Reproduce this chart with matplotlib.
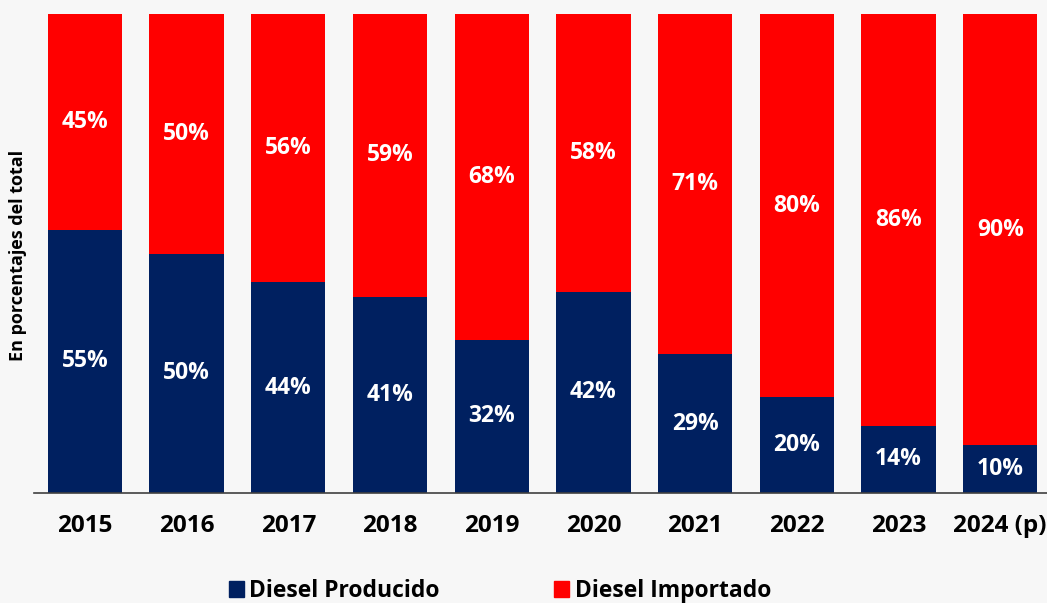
import matplotlib.pyplot as plt
from matplotlib.patches import Patch

anios = ["2015", "2016", "2017", "2018", "2019", "2020", "2021", "2022", "2023", "2024 (p)"]
producido = [55, 50, 44, 41, 32, 42, 29, 20, 14, 10]
importado = [45, 50, 56, 59, 68, 58, 71, 80, 86, 90]

azul = "#002060"
rojo = "#FF0000"
fondo = "#F7F7F7"

plt.rcParams['font.family'] = ['Open Sans', 'DejaVu Sans']
plt.rcParams['font.weight'] = 'bold'

fig = plt.figure(figsize=(10.47, 6.03), dpi=100, facecolor=fondo)
ax = fig.add_axes([34/1047, 1-493/603, 1013/1047, 479/603])
ax.set_facecolor(fondo)

x = range(len(anios))
ax.bar(x, producido, width=0.73, color=azul, label="Diesel Producido")
ax.bar(x, importado, width=0.73, bottom=producido, color=rojo, label="Diesel Importado")

for i in x:
    ax.text(i, producido[i] / 2, f"{producido[i]}%", ha='center', va='center',
            color='white', fontsize=16.5, fontweight='bold')
    ax.text(i, producido[i] + importado[i] / 2, f"{importado[i]}%", ha='center', va='center',
            color='white', fontsize=16.5, fontweight='bold')

ax.set_xlim(-0.5, 9.46)
ax.set_ylim(0, 100)
ax.set_xticks(list(x))
ax.set_xticklabels(anios, fontsize=17.5, fontweight='bold')
ax.tick_params(axis='x', length=0, pad=15)
ax.set_yticks([])
for s in ['top', 'right', 'left']:
    ax.spines[s].set_visible(False)
ax.spines['bottom'].set_color('#404040')
ax.spines['bottom'].set_linewidth(1.2)

fig.text(18/1047, 1-255/603, "En porcentajes del total", rotation=90, ha='center', va='center',
         fontsize=13, fontweight='bold')

handles = [Patch(color=azul, label="Diesel Producido"), Patch(color=rojo, label="Diesel Importado")]
fig.legend(handles=handles, loc='center', bbox_to_anchor=(0.4776, 1-591/603), ncol=2,
           frameon=False, handlelength=0.65, handleheight=0.65,
           handletextpad=0.25, columnspacing=5.0, prop={'weight': 'bold', 'size': 16.5})

fig.savefig("out.png", dpi=100, facecolor=fondo)
